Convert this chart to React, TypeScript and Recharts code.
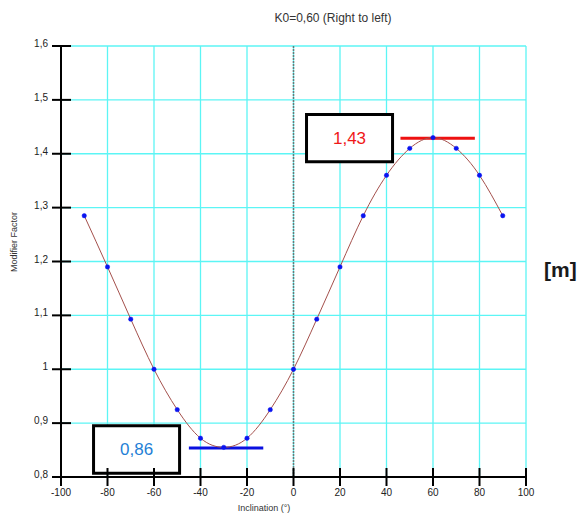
import React from "react";
import {
  LineChart,
  Line,
  XAxis,
  YAxis,
  CartesianGrid,
  ReferenceLine,
  ReferenceArea,
  Label,
} from "recharts";

const inclination = [-90, -80, -70, -60, -50, -40, -30, -20, -10, 0, 10, 20, 30, 40, 50, 60, 70, 80, 90];
const modifier = [1.285, 1.19, 1.093, 1.0, 0.925, 0.872, 0.855, 0.872, 0.925, 1.0, 1.093, 1.19, 1.285, 1.36, 1.41, 1.43, 1.41, 1.36, 1.285];

const xTicks = [-100, -80, -60, -40, -20, 0, 20, 40, 60, 80, 100];
const yTicks = [0.8, 0.9, 1.0, 1.1, 1.2, 1.3, 1.4, 1.5, 1.6];
const yTickLabels = ["0,8", "0,9", "1", "1,1", "1,2", "1,3", "1,4", "1,5", "1,6"];

// annotations: max / min markers and their value boxes
const maxLabel = "1,43";
const minLabel = "0,86";
const maxLine = [46, 78, 1.429];
const minLine = [-45, -13, 0.854];
const maxBox = [5.6, 42.6, 1.385, 1.473];
const minBox = [-86, -49, 0.807, 0.895];

const data = inclination.map((x, i) => ({ x, y: modifier[i] }));

const TICK = 9;
const font = "'Liberation Sans', Arial, sans-serif";

function XTick(props: any) {
  const { x, y, payload } = props;
  const axisY = y - TICK - 3;
  return (
    <g>
      <line x1={x} x2={x} y1={axisY - TICK} y2={axisY + TICK} stroke="#000" strokeWidth={2} />
      <text x={x} y={axisY + 12} dy="0.71em" textAnchor="middle" fontSize={10} fill="#222" fontFamily={font}>
        {payload.value}
      </text>
    </g>
  );
}

function YTick(props: any) {
  const { x, y, payload } = props;
  const axisX = x + TICK + 3;
  const idx = yTicks.findIndex((v) => Math.abs(v - payload.value) < 1e-6);
  return (
    <g>
      <line x1={axisX - TICK} x2={axisX + 10} y1={y} y2={y} stroke="#000" strokeWidth={2} />
      <text x={axisX - 13} y={y} dy="0.1em" textAnchor="end" fontSize={10} fill="#222" fontFamily={font}>
        {idx >= 0 ? yTickLabels[idx] : payload.value}
      </text>
    </g>
  );
}

function boxLabel(text: string, color: string) {
  return (p: any) => {
    const vb = p.viewBox;
    return (
      <text
        x={vb.x + vb.width / 2}
        y={vb.y + vb.height / 2}
        dy="0.35em"
        textAnchor="middle"
        fontSize={17}
        fill={color}
        fontFamily={font}
      >
        {text}
      </text>
    );
  };
}

export default function App() {
  return (
    <div style={{ position: "relative", width: 582, height: 524, background: "#fff", fontFamily: font }}>
      <style>{`body{margin:0}`}</style>
      <div
        style={{
          position: "absolute",
          top: 11,
          left: 333,
          transform: "translateX(-50%)",
          fontSize: 12,
          color: "#333",
          whiteSpace: "nowrap",
        }}
      >
        K0=0,60 (Right to left)
      </div>
      <div style={{ position: "absolute", top: 258, left: 544, fontSize: 21, fontWeight: "bold", color: "#1a1a1a" }}>
        [m]
      </div>
      <LineChart width={582} height={524} data={data} margin={{ top: 46, right: 56, bottom: 17, left: 0 }}>
        <CartesianGrid stroke="#5cf5f5" strokeWidth={1.3} horizontalValues={yTicks} verticalValues={xTicks} />
        <XAxis
          type="number"
          dataKey="x"
          domain={[-100, 100]}
          ticks={xTicks}
          height={30}
          tickSize={TICK}
          tickMargin={3}
          tickLine={false}
          axisLine={{ stroke: "#000", strokeWidth: 2 }}
          tick={<XTick />}
          interval={0}
        >
          <Label
            content={(p: any) => (
              <text x={264} y={511} textAnchor="middle" fontSize={9} fill="#333" fontFamily={font}>
                Inclination (°)
              </text>
            )}
          />
        </XAxis>
        <YAxis
          type="number"
          domain={[0.8, 1.6]}
          ticks={yTicks}
          width={61}
          tickSize={TICK}
          tickMargin={3}
          tickLine={false}
          axisLine={{ stroke: "#000", strokeWidth: 2 }}
          tick={<YTick />}
          interval={0}
        >
          <Label
            content={(p: any) => (
              <text
                x={17}
                y={242}
                transform="rotate(-90 17 242)"
                textAnchor="middle"
                fontSize={9}
                fill="#333"
                fontFamily={font}
              >
                Modifier Factor
              </text>
            )}
          />
        </YAxis>
        <ReferenceLine x={0} stroke="#6a7878" strokeWidth={1.5} strokeDasharray="2 1" />
        <ReferenceArea
          x1={maxBox[0]}
          x2={maxBox[1]}
          y1={maxBox[2]}
          y2={maxBox[3]}
          fill="#fff"
          fillOpacity={1}
          stroke="#000"
          strokeWidth={3}
          label={boxLabel(maxLabel, "#f01818")}
        />
        <ReferenceArea
          x1={minBox[0]}
          x2={minBox[1]}
          y1={minBox[2]}
          y2={minBox[3]}
          fill="#fff"
          fillOpacity={1}
          stroke="#000"
          strokeWidth={3}
          label={boxLabel(minLabel, "#1f7fd6")}
        />
        <ReferenceLine
          segment={[
            { x: maxLine[0], y: maxLine[2] },
            { x: maxLine[1], y: maxLine[2] },
          ]}
          stroke="#ee1111"
          strokeWidth={3}
        />
        <ReferenceLine
          segment={[
            { x: minLine[0], y: minLine[2] },
            { x: minLine[1], y: minLine[2] },
          ]}
          stroke="#0a10e0"
          strokeWidth={3}
        />
        <Line
          type="natural"
          dataKey="y"
          stroke="#a4504c"
          strokeWidth={1}
          dot={{ r: 2.2, fill: "#0a14f0", stroke: "#0a14f0", strokeWidth: 0.5 }}
          isAnimationActive={false}
        />
      </LineChart>
    </div>
  );
}
